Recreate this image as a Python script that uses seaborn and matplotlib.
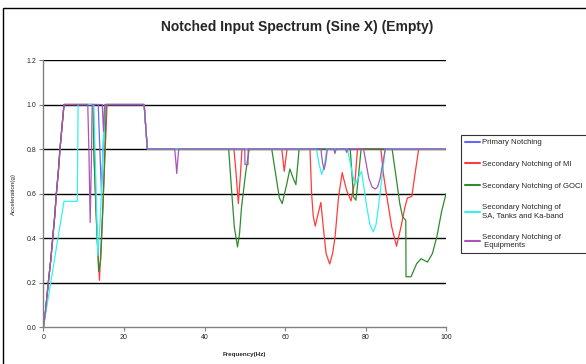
import matplotlib
matplotlib.use("Agg")
import matplotlib.pyplot as plt
import matplotlib.patches as patches
import seaborn as sns
import pandas as pd

# Notched input spectrum

# common rise 0..5 Hz
rise_f = [0, 0.5, 1.2, 1.8, 2.3, 2.8, 3.2, 3.7, 4.1, 4.6, 5.1]
rise_a = [0, 0.07, 0.2, 0.3, 0.4, 0.5, 0.6, 0.7, 0.8, 0.9, 1.0]

# Primary Notching
prim_f = rise_f + [13.6, 14.0, 14.4, 14.8, 15.3, 25.0, 25.8, 100]
prim_a = rise_a + [1.0, 0.8, 0.61, 0.8, 1.0, 1.0, 0.8, 0.8]

# Secondary Notching of MI
mi_f = rise_f + [12.4, 12.6, 13.2, 13.9, 14.4, 15.0, 15.8, 25.0, 25.8,
                 47.3, 47.8, 48.4, 48.9, 49.3,
                 59.2, 59.8, 60.5,
                 66.2, 66.6, 67.0, 67.5, 68.1, 68.9, 69.5, 70.2, 71.1, 71.8,
                 72.4, 73.3, 74.2, 75.3, 76.4, 77.4, 78.0,
                 83.8, 84.5, 85.3, 86.5, 87.7, 88.8, 89.8, 90.4, 91.5, 92.3,
                 93.2, 100]
mi_a = rise_a + [1.0, 0.75, 0.45, 0.21, 0.4, 0.65, 1.0, 1.0, 0.8,
                 0.8, 0.7, 0.555, 0.68, 0.8,
                 0.8, 0.70, 0.8,
                 0.8, 0.6, 0.5, 0.453, 0.5, 0.56, 0.45, 0.33, 0.283, 0.33,
                 0.40, 0.585, 0.694, 0.614, 0.567, 0.66, 0.8,
                 0.8, 0.68, 0.585, 0.45, 0.363, 0.45, 0.54, 0.58, 0.587, 0.69,
                 0.8, 0.8]

# Secondary Notching of GOCI
goci_f = rise_f + [12.3, 12.5, 13.0, 13.7, 14.2, 14.8, 15.6, 25.0, 25.8,
                   46.0, 46.7, 47.4, 48.2, 48.7, 49.2, 50.2, 51.1,
                   56.7, 57.9, 58.6, 59.3, 60.4, 61.2, 62.0, 62.7, 63.5,
                   76.2, 77.0, 77.6, 78.2, 78.9,
                   86.6, 87.7, 88.5, 89.2, 90.0, 90.05, 91.3, 92.7, 93.8,
                   95.4, 96.6, 97.7, 98.9, 100]
goci_a = rise_a + [1.0, 0.8, 0.55, 0.25, 0.3, 0.55, 1.0, 1.0, 0.8,
                   0.8, 0.62, 0.45, 0.36, 0.42, 0.54, 0.69, 0.8,
                   0.8, 0.66, 0.58, 0.555, 0.64, 0.71, 0.67, 0.64, 0.8,
                   0.8, 0.585, 0.57, 0.67, 0.8,
                   0.8, 0.66, 0.555, 0.495, 0.48, 0.226, 0.226, 0.285, 0.307,
                   0.292, 0.33, 0.405, 0.52, 0.6]

# Secondary Notching of SA, Tanks and Ka-band
sa_f = [0, 1.8, 3.6, 5.1, 8.4, 8.6, 12.5, 12.8, 13.5, 14.0, 14.6, 15.2,
        25.0, 25.8,
        67.8, 68.5, 69.1, 69.8, 70.4,
        75.5, 76.6, 77.4, 78.2, 79.0, 80.3, 81.1, 81.9, 82.6, 83.2, 84.2,
        84.9, 100]
sa_a = [0, 0.2, 0.4, 0.565, 0.565, 1.0, 1.0, 0.8, 0.32, 0.45, 0.7, 1.0,
        1.0, 0.8,
        0.8, 0.73, 0.686, 0.73, 0.8,
        0.8, 0.7, 0.64, 0.67, 0.70, 0.54, 0.46, 0.427, 0.46, 0.54, 0.69,
        0.8, 0.8]

# Secondary Notching of Equipments
eq_f = rise_f + [11.0, 11.3, 11.6, 11.9, 12.1, 14.6, 14.9, 15.2, 25.0, 25.8,
                 32.6, 32.9, 33.1, 33.4, 33.6,
                 50.0, 50.05, 50.8, 50.85,
                 68.9, 69.3, 69.7, 70.1, 70.5,
                 72.1, 72.4, 72.7, 75.0, 75.3, 75.6,
                 79.5, 80.8, 81.6, 82.4, 83.0, 83.6, 84.9, 100]
eq_a = rise_a + [1.0, 0.78, 0.47, 0.75, 1.0, 1.0, 0.88, 1.0, 1.0, 0.8,
                 0.8, 0.74, 0.69, 0.76, 0.8,
                 0.8, 0.73, 0.73, 0.8,
                 0.8, 0.74, 0.707, 0.74, 0.8,
                 0.8, 0.78, 0.8, 0.8, 0.785, 0.8,
                 0.8, 0.67, 0.63, 0.62, 0.63, 0.666, 0.8, 0.8]

labels = ["Primary Notching",
          "Secondary Notching of MI",
          "Secondary Notching of GOCI",
          "Secondary Notching of\nSA, Tanks and Ka-band",
          "Secondary Notching of\n Equipments"]
colors = ["#6666FF", "#FF3B3B", "#2E8B2E", "#33F2F2", "#A855B5"]
series = [(prim_f, prim_a), (mi_f, mi_a), (goci_f, goci_a),
          (sa_f, sa_a), (eq_f, eq_a)]

sns.set_style("white")
plt.rcParams["font.family"] = ["Liberation Sans", "DejaVu Sans"]

fig = plt.figure(figsize=(5.86, 3.64), dpi=100)
ax = fig.add_axes([0.0742, 0.1016, 0.687, 0.7335])

for (f, a), lab, col in zip(series, labels, colors):
    df = pd.DataFrame({"Frequency": f, "Acceleration": a})
    sns.lineplot(data=df, x="Frequency", y="Acceleration", ax=ax,
                 sort=False, estimator=None, color=col, lw=0.9, label=lab)

ax.set_xlim(0, 100)
ax.set_ylim(0, 1.2)
ax.set_xticks([0, 20, 40, 60, 80, 100])
ax.set_yticks([0, 0.2, 0.4, 0.6, 0.8, 1.0, 1.2])
ax.set_yticklabels(["0.0", "0.2", "0.4", "0.6", "0.8", "1.0", "1.2"])
for y in [0.2, 0.4, 0.6, 0.8, 1.0, 1.2]:
    ax.axhline(y, color="black", lw=1.0, zorder=0)

for s in ["top", "right"]:
    ax.spines[s].set_visible(False)
for s in ["left", "bottom"]:
    ax.spines[s].set_color("#808080")
    ax.spines[s].set_linewidth(1.0)
ax.tick_params(axis="both", labelsize=5, length=3, width=0.8,
               color="#808080", direction="out", left=True, bottom=True, pad=2)

ax.set_xlabel("Frequency(Hz)", fontsize=4.5, fontweight="bold", labelpad=8)
ax.set_ylabel("Acceleration(g)", fontsize=4.5, labelpad=8)

fig.text(0.507, 0.925, "Notched Input Spectrum (Sine X) (Empty)",
         ha="center", va="center", fontsize=10, fontweight="bold")

ax.get_legend().remove()
handles, labs = ax.get_legend_handles_labels()
leg = fig.legend(handles, labs, loc="upper left",
                 bbox_to_anchor=(0.7867, 0.629), fontsize=5.6,
                 frameon=True, fancybox=False, edgecolor="black",
                 handlelength=2.0, handletextpad=0.2, labelspacing=1.85,
                 borderpad=0.5, borderaxespad=0)
leg.get_frame().set_linewidth(0.8)
for h in leg.get_lines():
    h.set_linewidth(1.5)

# outer chart frame, cropped at right and bottom
fig.patches.append(patches.Rectangle((2.5 / 586, -0.1), 1.2, 1 - 8 / 364 + 0.1,
                                     transform=fig.transFigure, fill=False,
                                     edgecolor="black", lw=1.0))

fig.savefig("out.png", dpi=100)
